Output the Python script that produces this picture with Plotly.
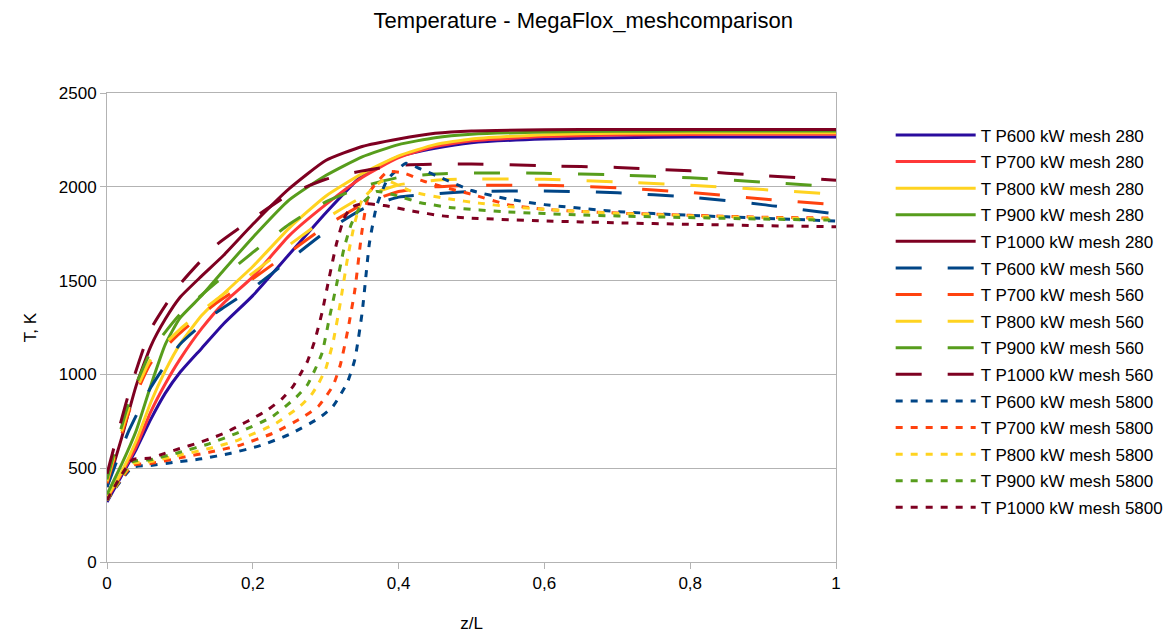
import plotly.graph_objects as go

# ---------------- data ----------------
powers = ["P600", "P700", "P800", "P900", "P1000"]

# mesh 280 (solid)
x_280 = [0, 0.02, 0.04, 0.06, 0.08, 0.1, 0.13, 0.16, 0.2, 0.25, 0.3, 0.35, 0.4, 0.45, 0.5, 0.6, 0.7, 0.8, 0.9, 1.0]
t_p600_280 = [320, 460, 600, 760, 900, 1010, 1140, 1270, 1420, 1640, 1860, 2060, 2160, 2205, 2235, 2255, 2262, 2265, 2265, 2265]
t_p700_280 = [335, 470, 615, 800, 950, 1080, 1245, 1380, 1520, 1740, 1905, 2050, 2155, 2215, 2245, 2268, 2276, 2279, 2280, 2280]
t_p800_280 = [345, 480, 645, 850, 1020, 1160, 1315, 1430, 1575, 1780, 1950, 2070, 2165, 2225, 2255, 2278, 2286, 2288, 2288, 2288]
t_p900_280 = [360, 520, 700, 940, 1160, 1300, 1420, 1555, 1730, 1930, 2060, 2160, 2225, 2262, 2280, 2292, 2296, 2297, 2297, 2297]
t_p1000_280 = [400, 660, 940, 1150, 1295, 1410, 1525, 1635, 1800, 1990, 2140, 2215, 2255, 2285, 2298, 2304, 2306, 2306, 2306, 2306]

# mesh 560 (dashed)
x_560 = [0, 0.03, 0.06, 0.1, 0.15, 0.2, 0.25, 0.3, 0.35, 0.4, 0.45, 0.5, 0.6, 0.7, 0.8, 0.9, 1.0]
t_p600_560 = [400, 700, 930, 1160, 1330, 1460, 1610, 1760, 1880, 1945, 1962, 1975, 1978, 1968, 1945, 1905, 1855]
t_p700_560 = [420, 800, 1060, 1220, 1380, 1510, 1650, 1790, 1905, 1975, 2000, 2008, 2008, 1995, 1970, 1935, 1905]
t_p800_560 = [430, 820, 1080, 1240, 1400, 1540, 1690, 1830, 1945, 2010, 2035, 2042, 2040, 2026, 2008, 1985, 1960]
t_p900_560 = [440, 850, 1120, 1320, 1490, 1650, 1800, 1920, 2000, 2050, 2068, 2074, 2072, 2063, 2048, 2025, 2000]
t_p1000_560 = [470, 900, 1240, 1480, 1690, 1830, 1960, 2040, 2085, 2115, 2120, 2122, 2112, 2103, 2085, 2060, 2035]

# mesh 5800 (dotted)
x_p600_5800 = [0, 0.035, 0.06, 0.09, 0.13, 0.17, 0.21, 0.25, 0.29, 0.31, 0.33, 0.34, 0.35, 0.36, 0.37, 0.385, 0.41, 0.43, 0.46, 0.5, 0.55, 0.6, 0.7, 0.8, 0.9, 1.0]
t_p600_5800 = [330, 505, 515, 530, 550, 580, 620, 680, 765, 830, 960, 1080, 1330, 1700, 1900, 2040, 2125, 2095, 2045, 1980, 1935, 1905, 1868, 1848, 1832, 1818]
x_p700_5800 = [0, 0.035, 0.06, 0.1, 0.14, 0.18, 0.23, 0.27, 0.29, 0.31, 0.32, 0.33, 0.34, 0.35, 0.36, 0.385, 0.41, 0.43, 0.46, 0.5, 0.55, 0.6, 0.7, 0.8, 0.9, 1.0]
t_p700_5800 = [330, 515, 525, 555, 585, 620, 690, 775, 830, 940, 1050, 1230, 1450, 1770, 1970, 2080, 2070, 2036, 2000, 1960, 1905, 1880, 1860, 1848, 1838, 1833]
x_p800_5800 = [0, 0.035, 0.06, 0.1, 0.14, 0.18, 0.23, 0.265, 0.28, 0.29, 0.30, 0.31, 0.32, 0.33, 0.34, 0.35, 0.38, 0.42, 0.47, 0.51, 0.55, 0.6, 0.7, 0.8, 0.9, 1.0]
t_p800_5800 = [330, 525, 535, 570, 605, 650, 735, 831, 890, 950, 1030, 1170, 1380, 1620, 1810, 1930, 2036, 1972, 1935, 1913, 1895, 1880, 1858, 1845, 1835, 1828]
x_p900_5800 = [0, 0.035, 0.06, 0.1, 0.14, 0.18, 0.226, 0.26, 0.275, 0.285, 0.295, 0.305, 0.315, 0.325, 0.335, 0.35, 0.37, 0.4, 0.43, 0.47, 0.55, 0.65, 0.75, 0.9, 1.0]
t_p900_5800 = [330, 535, 545, 585, 630, 690, 773, 880, 945, 1023, 1114, 1300, 1480, 1670, 1800, 1910, 1975, 1950, 1915, 1890, 1866, 1850, 1840, 1828, 1822]
x_p1000_5800 = [0, 0.035, 0.06, 0.08, 0.1, 0.125, 0.145, 0.165, 0.18, 0.2, 0.22, 0.24, 0.255, 0.265, 0.275, 0.285, 0.295, 0.305, 0.315, 0.325, 0.335, 0.35, 0.38, 0.42, 0.46, 0.5, 0.6, 0.7, 0.8, 0.9, 1.0]
t_p1000_5800 = [330, 545, 554, 580, 605, 635, 662, 694, 725, 765, 810, 870, 935, 1000, 1070, 1180, 1330, 1520, 1700, 1830, 1890, 1910, 1900, 1870, 1845, 1833, 1818, 1808, 1800, 1793, 1787]

x_tickvals = [0, 0.2, 0.4, 0.6, 0.8, 1]
x_ticktext = ["0", "0,2", "0,4", "0,6", "0,8", "1"]

# ---------------- styles ----------------
solid_colors = ["#2a0c9e", "#ff3838", "#ffd320", "#579d1c", "#7e0021"]
other_colors = ["#004586", "#ff420e", "#ffd320", "#579d1c", "#7e0021"]

series = [
    ("280", [x_280] * 5, [t_p600_280, t_p700_280, t_p800_280, t_p900_280, t_p1000_280], solid_colors, "solid"),
    ("560", [x_560] * 5, [t_p600_560, t_p700_560, t_p800_560, t_p900_560, t_p1000_560], other_colors, "26px,26px"),
    ("5800", [x_p600_5800, x_p700_5800, x_p800_5800, x_p900_5800, x_p1000_5800],
     [t_p600_5800, t_p700_5800, t_p800_5800, t_p900_5800, t_p1000_5800], other_colors, "7px,8px"),
]

fig = go.Figure()
k = 0
for mesh, xs, ts, cols, dash in series:
    for p, xv, tv, c in zip(powers, xs, ts, cols):
        fig.add_trace(go.Scatter(
            x=xv, y=tv, mode="lines",
            name=f"T {p} kW mesh {mesh}",
            legendgroup=f"g{k}",
            line=dict(color=c, width=3, dash=dash, shape="spline", smoothing=0.5),
        ))
        k += 1

grid = "#b3b3b3"
fig.update_layout(
    width=1176, height=633,
    paper_bgcolor="white", plot_bgcolor="white",
    font=dict(family="Liberation Sans, Arial, sans-serif", size=17, color="black"),
    title=dict(text="Temperature - MegaFlox_meshcomparison", x=0.496, xanchor="center",
               y=1 - 20 / 633, yanchor="middle", yref="container",
               font=dict(size=22, color="black")),
    margin=dict(l=107, r=340, t=93, b=71, autoexpand=False),
    showlegend=True,
    legend=dict(x=1.075, xanchor="left", y=0.948, yanchor="top",
                font=dict(size=17, color="black"), itemwidth=80,
                tracegroupgap=1.5, bgcolor="rgba(0,0,0,0)"),
    xaxis=dict(range=[0, 1], tickvals=x_tickvals, ticktext=x_ticktext,
               showgrid=False, showline=True, linecolor=grid, linewidth=1, mirror=True,
               ticks="outside", ticklen=6, tickcolor=grid, zeroline=False,
               title=dict(text="z/L", standoff=26, font=dict(size=17))),
    yaxis=dict(range=[0, 2500], dtick=500, showgrid=True, gridcolor=grid, gridwidth=1,
               showline=True, linecolor=grid, linewidth=1, mirror=True,
               ticks="outside", ticklen=6, tickcolor=grid, zeroline=False,
               title=dict(text="T, K", standoff=17, font=dict(size=17))),
)

fig.write_html(
    "out.html",
    config={"displayModeBar": False},
    post_script="document.body.style.margin='0';document.body.style.padding='0';"
                "document.documentElement.style.overflow='hidden';",
)
